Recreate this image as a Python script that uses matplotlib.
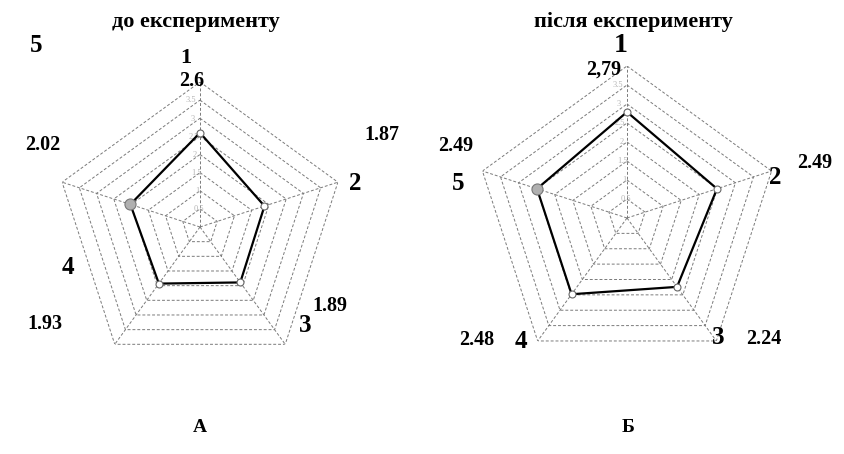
import numpy as np
import matplotlib
matplotlib.use("Agg")
import matplotlib.pyplot as plt

axes_labels = ["1", "2", "3", "4", "5"]
before_values = [2.6, 1.87, 1.89, 1.93, 2.02]
after_values = [2.79, 2.49, 2.24, 2.48, 2.49]
before_text = ["2.6", "1.87", "1.89", "1.93", "2.02"]
after_text = ["2,79", "2.49", "2.24", "2.48", "2.49"]
ring_levels = [0.5, 1.0, 1.5, 2.0, 2.5, 3.0, 3.5, 4.0]
ring_text = ["0.5", "1", "1.5", "2", "2.5", "3", "3.5"]
titles = ["до експерименту", "після експерименту"]
panel_letters = ["А", "Б"]

W, H = 844, 454
fig = plt.figure(figsize=(W / 100, H / 100), dpi=100)
fig.patch.set_facecolor("white")
serif = ["Liberation Serif", "DejaVu Serif"]

n = len(axes_labels)
theta = np.arange(n) * 2 * np.pi / n
theta_c = np.append(theta, theta[0])


def px_axes(cx, cy, r):
    return [(cx - r) / W, (H - cy - r) / H, 2 * r / W, 2 * r / H]


def radar(rect, values):
    ax = fig.add_axes(rect, projection="polar")
    ax.set_theta_offset(np.pi / 2)
    ax.set_theta_direction(-1)
    ax.set_ylim(0, 4.0)
    ax.set_axis_off()
    for lv in ring_levels:
        ax.plot(theta_c, [lv] * (n + 1), color="#7a7a7a", lw=0.7,
                ls=(0, (3, 2)), zorder=1)
    for t in theta:
        ax.plot([t, t], [0, ring_levels[-1]], color="#7a7a7a", lw=0.7,
                ls=(0, (3, 2)), zorder=1)
    v = np.append(values, values[0])
    ax.plot(theta_c, v, color="black", lw=1.6, zorder=3)
    ax.plot(theta[:4], values[:4], ls="none", marker="o", ms=5,
            mfc="white", mec="#666666", mew=0.8, zorder=4)
    ax.plot([theta[4]], [values[4]], ls="none", marker="o", ms=8,
            mfc="#b0b0b0", mec="#777777", mew=0.8, zorder=4)
    for lv, tx in zip(ring_levels, ring_text):
        ax.text(-0.07, lv, tx, fontsize=6, color="#b5b5b5",
                ha="center", va="center", family=serif, zorder=2)
    return ax


radar(px_axes(200, 227, 145), before_values)
radar(px_axes(627, 218, 152), after_values)


def ftext(x, y, s, size, **kw):
    fig.text(x / W, 1 - y / H, s, fontsize=size, fontweight="bold",
             family=serif, ha="center", va="center", **kw)


# titles and panel letters
ftext(196, 22, titles[0], 16)
ftext(633, 22, titles[1], 16)
ftext(200, 427, panel_letters[0], 14)
ftext(628, 427, panel_letters[1], 14)

# left chart labels
ftext(186, 58, axes_labels[0], 16)
ftext(355, 183, axes_labels[1], 18)
ftext(305, 326, axes_labels[2], 18)
ftext(68, 267, axes_labels[3], 18)
ftext(36, 45, axes_labels[4], 18)
ftext(192, 81, before_text[0], 14.5)
ftext(382, 135, before_text[1], 14.5)
ftext(330, 306, before_text[2], 14.5)
ftext(45, 324, before_text[3], 14.5)
ftext(43, 145, before_text[4], 14.5)

# right chart labels
ftext(621, 46, axes_labels[0], 20)
ftext(775, 178, axes_labels[1], 18)
ftext(718, 337, axes_labels[2], 18)
ftext(521, 342, axes_labels[3], 18)
ftext(458, 183, axes_labels[4], 18)
ftext(604, 70, after_text[0], 14.5)
ftext(815, 163, after_text[1], 14.5)
ftext(764, 339, after_text[2], 14.5)
ftext(477, 340, after_text[3], 14.5)
ftext(456, 146, after_text[4], 14.5)

fig.savefig("out.png", dpi=100, facecolor="white")
